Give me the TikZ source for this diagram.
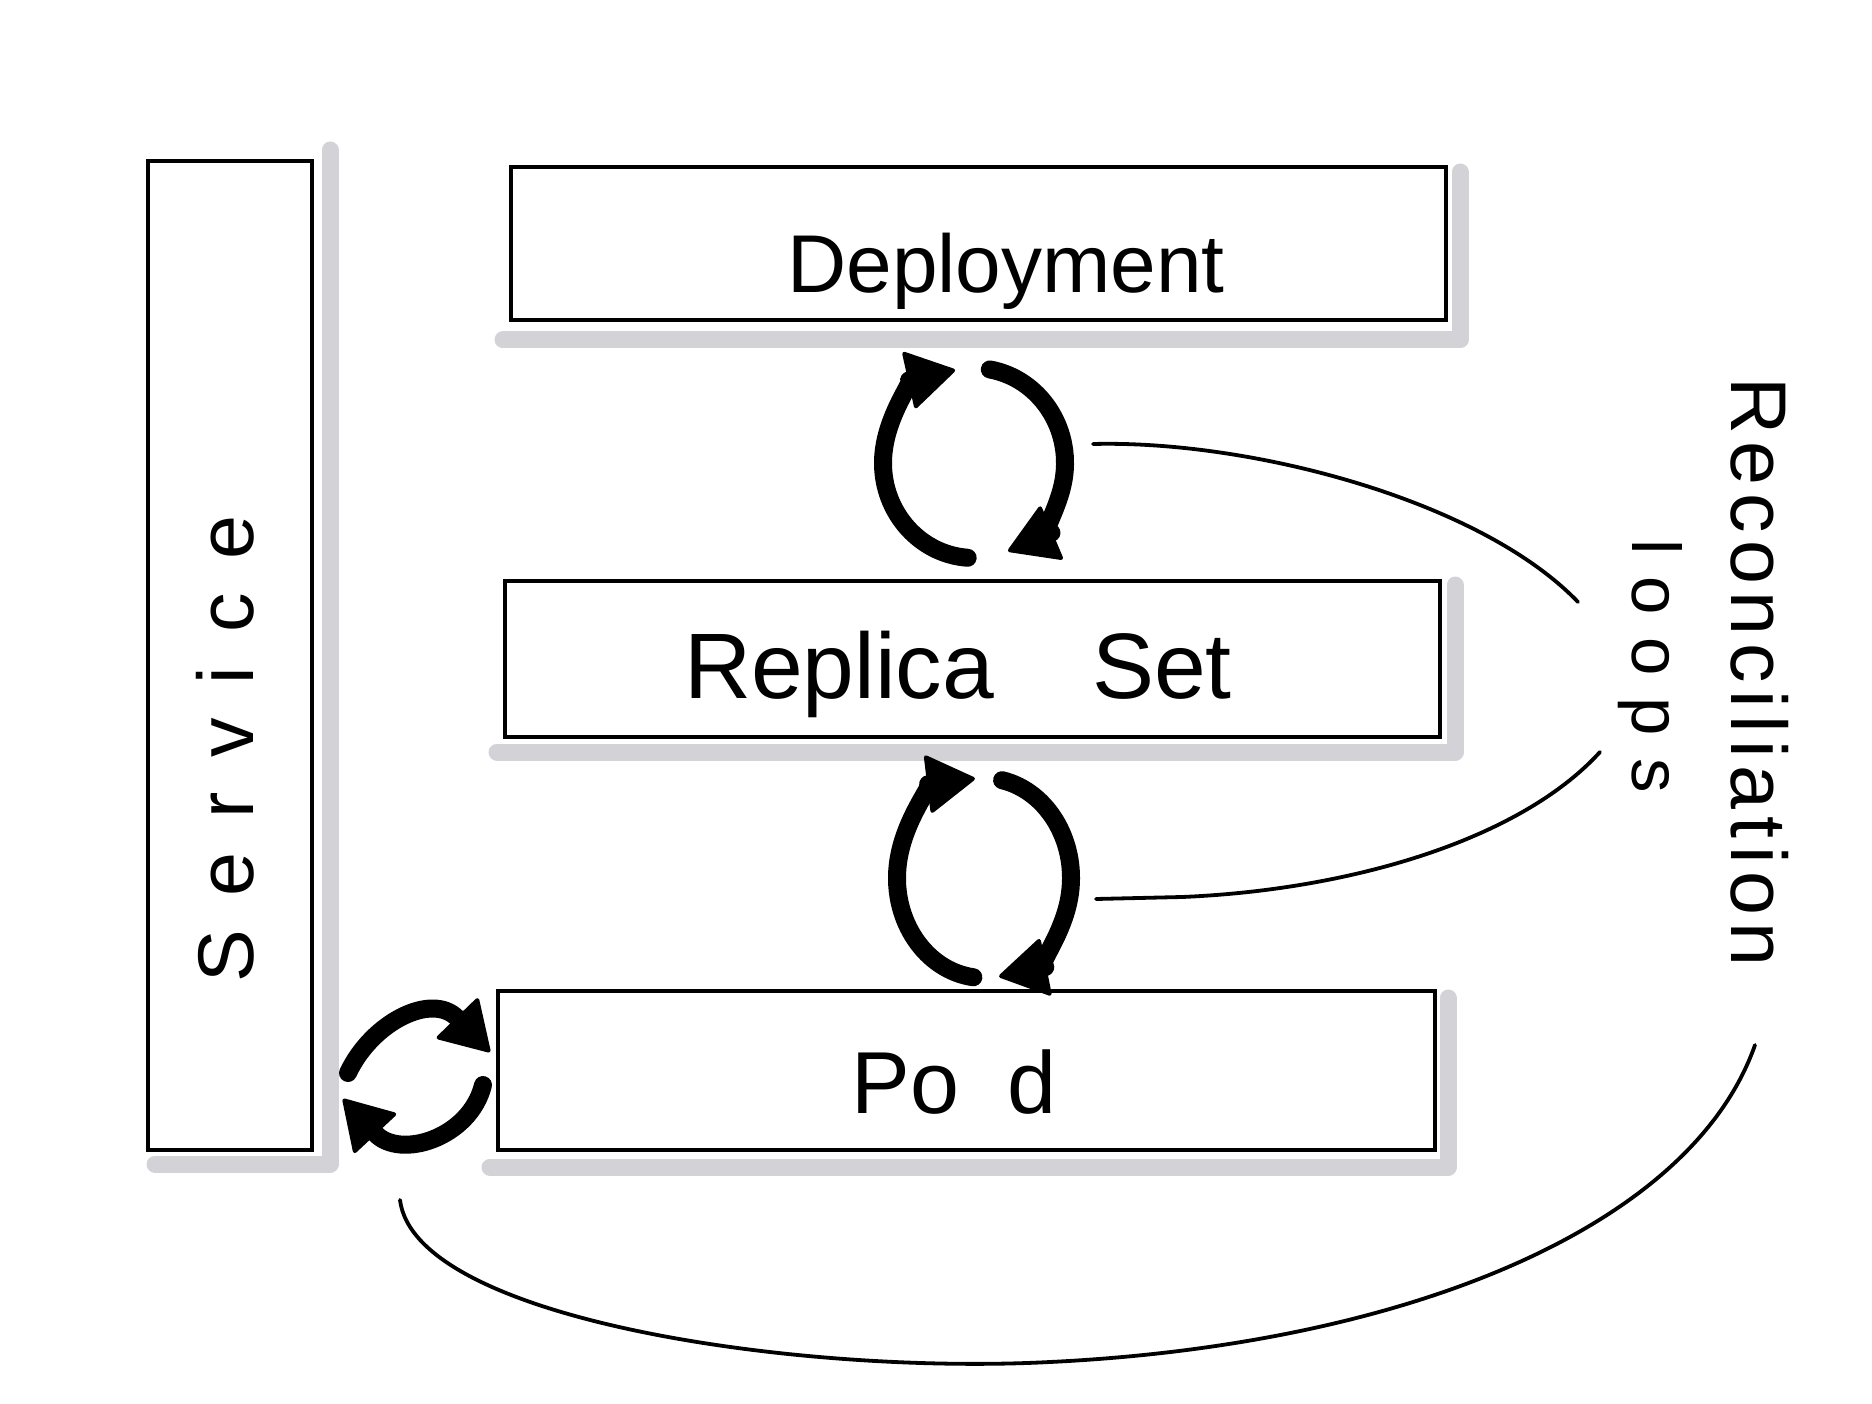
\documentclass[tikz,border=0pt]{standalone}
\usepackage{fontspec}
\setmainfont{Liberation Sans}
\usetikzlibrary{arrows.meta,calc}
\definecolor{shadowgray}{RGB}{211,211,215}
\begin{document}
\begin{tikzpicture}[x=1pt,y=-1pt,
  box/.style={draw=black, line width=4.5pt, rectangle, inner sep=0pt, outer sep=0pt},
  shadowline/.style={draw=shadowgray, line width=17pt, line cap=round, line join=round},
  loopline/.style={line width=18pt, line cap=round,
     -{Triangle[length=50pt,width=60pt,line width=4pt,round]}},
  conn/.style={line width=3.8pt, line cap=round},
  lbl/.style={inner sep=0pt, anchor=base}]
\useasboundingbox (0,0) rectangle (1872,1404);
\fill[white] (0,0) rectangle (1872,1404);

% boxes
\node[box, minimum width=164pt, minimum height=989pt] (svc) at (230,655.5) {};
\node[box, minimum width=935pt, minimum height=153pt] (dep) at (978.5,243.5) {};
\node[box, minimum width=935pt, minimum height=156pt] (rs) at (972.5,659) {};
\node[box, minimum width=937pt, minimum height=159pt] (pod) at (966.5,1070.5) {};

% shadows
\draw[shadowline] ([shift={(7,14)}]svc.south west) -- ([shift={(18,14)}]svc.south east) -- ([shift={(18,-11)}]svc.north east);
\draw[shadowline] ([shift={(-8,20)}]dep.south west) -- ([shift={(14,20)}]dep.south east) -- ([shift={(14,5)}]dep.north east);
\draw[shadowline] ([shift={(-8,15)}]rs.south west) -- ([shift={(15,15)}]rs.south east) -- ([shift={(15,4)}]rs.north east);
\draw[shadowline] ([shift={(-8,17)}]pod.south west) -- ([shift={(13,17)}]pod.south east) -- ([shift={(13,7)}]pod.north east);

% labels
\node[lbl, font=\fontsize{82pt}{90pt}\selectfont] (tdep) at (1006,293) {Deployment};
\node[lbl, font=\fontsize{93pt}{100pt}\selectfont] (trs) at (958,698) {Replica\hspace{98pt}Set};
\node[lbl, font=\fontsize{88pt}{96pt}\selectfont] (tpod) at (954,1113) {Po\hspace{48pt}d};
\node[lbl, rotate=90, font=\fontsize{79pt}{86pt}\selectfont\addfontfeature{LetterSpace=43}] (tsvc) at (253,749) {Service};
\node[lbl, rotate=-90, font=\fontsize{79pt}{86pt}\selectfont\addfontfeature{LetterSpace=9.5}] (trec) at (1731,672) {Reconciliation};
\node[lbl, rotate=-90, font=\fontsize{69pt}{76pt}\selectfont\addfontfeature{LetterSpace=32}] (tloops) at (1632,666) {loops};

% loop 1 (Deployment <-> Replica Set)
\coordinate (l1) at (974,463);
\draw[loopline] ([shift={(-80:91 and 95)}]l1) arc[start angle=-80, end angle=68, x radius=91, y radius=95];
\draw[loopline] ([shift={(94:91 and 95)}]l1) arc[start angle=94, end angle=258, x radius=91, y radius=95];

% loop 2 (Replica Set <-> Pod)
\coordinate (l2) at (984,878);
\draw[loopline] ([shift={(-78:87 and 100)}]l2) arc[start angle=-78, end angle=80, x radius=87, y radius=100];
\draw[loopline] ([shift={(97:87 and 100)}]l2) arc[start angle=97, end angle=264, x radius=87, y radius=100];

% loop 3 (Service <-> Pod)
\coordinate (l3a) at (348,1073);
\coordinate (l3b) at (490,1052);
\coordinate (l3c) at (483,1085);
\coordinate (l3d) at (343,1099);
\draw[loopline] (l3a) .. controls (372,1022) and (432,992) .. (l3b);
\draw[loopline] (l3c) .. controls (470,1138) and (400,1160) .. (l3d);

% connectors to the "Reconciliation loops" label
\coordinate (c1a) at (1093,444);
\coordinate (c1b) at (1578,602);
\draw[conn] (c1a) .. controls (1250,440) and (1480,500) .. (c1b);
\coordinate (c2a) at (1096,899);
\coordinate (c2k) at (1182,897);
\coordinate (c2b) at (1600,752);
\draw[conn] (c2a) -- (c2k) .. controls (1350,890) and (1520,840) .. (c2b);
\coordinate (c3a) at (400,1200);
\coordinate (c3m) at (1050,1362);
\coordinate (c3b) at (1755,1045);
\draw[conn] (c3a) .. controls (415,1320) and (800,1375) .. (c3m) .. controls (1400,1345) and (1690,1230) .. (c3b);
\end{tikzpicture}
\end{document}
